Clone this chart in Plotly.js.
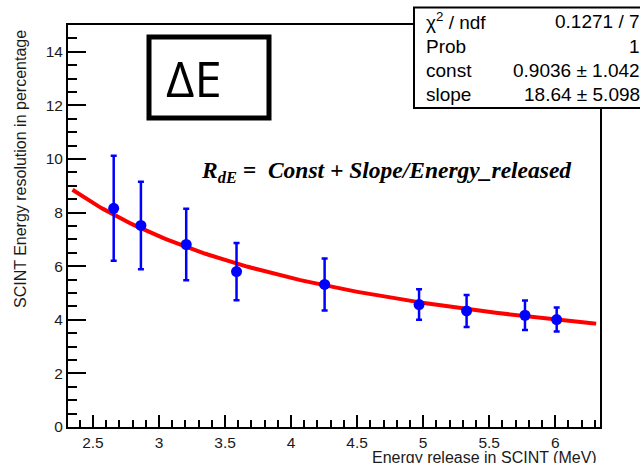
<!DOCTYPE html>
<html>
<head>
<meta charset="utf-8">
<script src="https://cdn.plot.ly/plotly-3.0.1.min.js"></script>
<style>
  html, body { margin: 0; padding: 0; background: #ffffff; }
  #chart { width: 640px; height: 463px; }
</style>
</head>
<body>
<div id="chart"></div>
<script>
// Measured scintillator energy resolution versus released energy
const energyMeV      = [2.657, 2.863, 3.206, 3.587, 4.254, 4.969, 5.329, 5.771, 6.011];
const resolutionPct  = [8.16, 7.52, 6.81, 5.80, 5.32, 4.57, 4.33, 4.17, 4.01];
const resolutionErr  = [1.96, 1.63, 1.33, 1.07, 0.97, 0.57, 0.60, 0.55, 0.45];

// Fit result R = const + slope / E
const fitConst = 0.9036;
const fitSlope = 18.64;
const fitRange = [2.345, 6.31];

// Fit statistics box rows
const statNames  = ["\u03c7<sup>2</sup> / ndf", "Prob", "const", "slope"];
const statValues = ["0.1271 / 7", "1", "0.9036 \u00b1 1.042", "18.64 \u00b1 5.098"];

const xTickVals = [2.5, 3, 3.5, 4, 4.5, 5, 5.5, 6];
const yTickVals = [0, 2, 4, 6, 8, 10, 12, 14];

// Sample the fitted function along its range
const fitX = [], fitY = [];
const nFit = 120;
for (let i = 0; i <= nFit; i++) {
  const e = fitRange[0] + (fitRange[1] - fitRange[0]) * i / nFit;
  fitX.push(e);
  fitY.push(fitConst + fitSlope / e);
}

// Page geometry (pixels) for the plotting frame
const W = 640, H = 463;
const M = { l: 68, r: 40, t: 25, b: 36 };
const pw = W - M.l - M.r, ph = H - M.t - M.b;
const px = x => (x - M.l) / pw;          // pixel x -> paper x
const py = y => (H - M.b - y) / ph;      // pixel y -> paper y

const traces = [
  {
    x: fitX, y: fitY, type: "scatter", mode: "lines",
    line: { color: "#ff0000", width: 4 },
    hoverinfo: "skip", showlegend: false
  },
  {
    x: energyMeV, y: resolutionPct, type: "scatter", mode: "markers",
    marker: { color: "#0000ff", size: 11, symbol: "circle" },
    error_y: { type: "data", array: resolutionErr, visible: true,
               color: "#0000ff", thickness: 2.5, width: 3 },
    showlegend: false
  }
];

const tickFont  = { family: "Liberation Sans, Arial, sans-serif", size: 15.5, color: "#1a1a1a" };
const titleFont = { family: "Liberation Sans, Arial, sans-serif", size: 16, color: "#1a1a1a" };

const annotations = [
  // formula label
  {
    xref: "paper", yref: "paper", x: px(199), y: py(172),
    xanchor: "left", yanchor: "middle", showarrow: false,
    text: "<b><i>R<sub>dE</sub> =  Const + Slope/Energy_released</i></b>",
    font: { family: "Liberation Serif, Times New Roman, serif", size: 23.5, color: "#000000" }
  },
  // ΔE label
  {
    xref: "paper", yref: "paper", x: px(194), y: py(78),
    xanchor: "center", yanchor: "middle", showarrow: false,
    text: "\u0394E",
    font: { family: "Open Sans, Noto Sans, sans-serif", size: 49, color: "#000000" }
  },
  // axis titles
  {
    xref: "paper", yref: "paper", x: px(599), y: py(457),
    xanchor: "right", yanchor: "middle", showarrow: false,
    text: "Energy release in SCINT (MeV)", font: titleFont
  },
  {
    xref: "paper", yref: "paper", x: px(20), y: py(169),
    xanchor: "center", yanchor: "middle", showarrow: false, textangle: -90,
    text: "SCINT Energy resolution in percentage", font: titleFont
  }
];

const statFont = { family: "Liberation Sans, Arial, sans-serif", size: 19, color: "#000000" };
const rowY = [21, 46, 70, 94];
for (let i = 0; i < statNames.length; i++) {
  annotations.push({
    xref: "paper", yref: "paper", x: px(424), y: py(rowY[i]),
    xanchor: "left", yanchor: "middle", showarrow: false,
    text: statNames[i], font: statFont
  });
  annotations.push({
    xref: "paper", yref: "paper", x: px(642), y: py(rowY[i]),
    xanchor: "right", yanchor: "middle", showarrow: false,
    text: statValues[i], font: statFont
  });
}

const shapes = [
  // fit statistics box
  {
    type: "rect", xref: "paper", yref: "paper", layer: "above",
    x0: px(414), x1: px(660), y0: py(108), y1: py(7.5),
    fillcolor: "#ffffff", line: { color: "#000000", width: 2 }
  },
  // ΔE frame
  {
    type: "rect", xref: "paper", yref: "paper", layer: "above",
    x0: px(149), x1: px(269), y0: py(118), y1: py(37),
    fillcolor: "rgba(0,0,0,0)", line: { color: "#000000", width: 5 }
  }
];

const layout = {
  width: W, height: H,
  margin: M,
  paper_bgcolor: "#ffffff", plot_bgcolor: "#ffffff",
  showlegend: false,
  xaxis: {
    range: [2.311, 6.339],
    tickvals: xTickVals, ticktext: xTickVals.map(String),
    ticks: "inside", ticklen: 12, tickwidth: 2, tickcolor: "#000000",
    minor: { dtick: 0.1, tick0: 2.5, ticks: "inside", ticklen: 7, tickwidth: 2, tickcolor: "#000000", showgrid: false },
    showline: true, linecolor: "#000000", linewidth: 2, mirror: true,
    showgrid: false, zeroline: false,
    tickfont: tickFont
  },
  yaxis: {
    range: [0, 15],
    tickvals: yTickVals, ticktext: yTickVals.map(String),
    ticks: "inside", ticklen: 18, tickwidth: 2, tickcolor: "#000000",
    minor: { dtick: 0.5, tick0: 0, ticks: "inside", ticklen: 9, tickwidth: 2, tickcolor: "#000000", showgrid: false },
    showline: true, linecolor: "#000000", linewidth: 2, mirror: true,
    showgrid: false, zeroline: false,
    tickfont: tickFont
  },
  annotations: annotations,
  shapes: shapes
};

Plotly.newPlot("chart", traces, layout, { displayModeBar: false, staticPlot: true });
</script>
</body>
</html>
